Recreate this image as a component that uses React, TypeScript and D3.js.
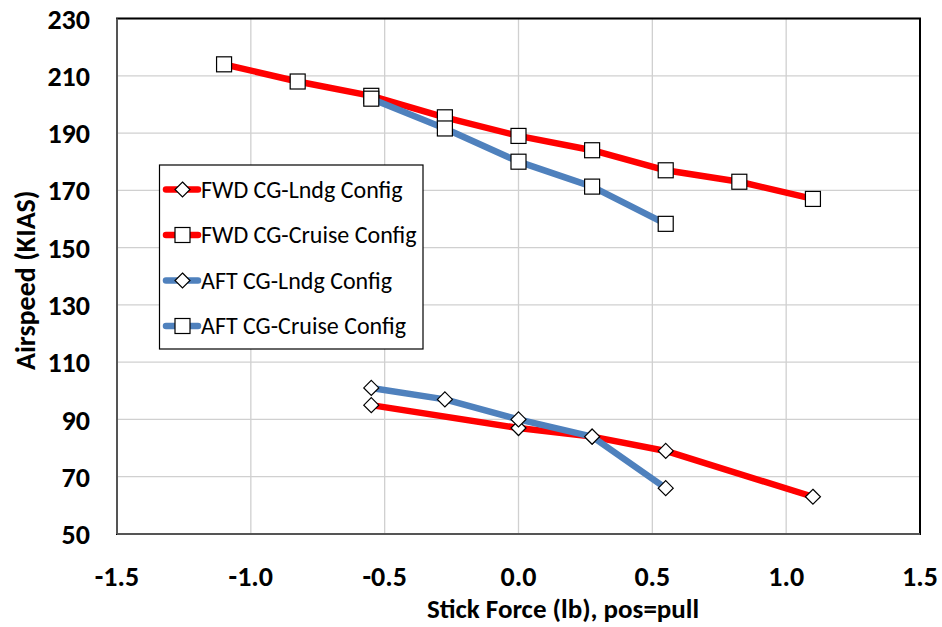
import React from "react";
import * as d3 from "d3";

const fwdLndgX = [-0.55, 0, 0.275, 0.55, 1.1];
const fwdLndgY = [95, 87, 84, 79, 63];
const fwdCruiseX = [-1.1, -0.825, -0.55, -0.275, 0, 0.275, 0.55, 0.825, 1.1];
const fwdCruiseY = [214, 208, 203, 195.5, 189, 184, 177, 173, 167];
const aftLndgX = [-0.55, -0.275, 0, 0.275, 0.55];
const aftLndgY = [101, 97, 90, 84, 66];
const aftCruiseX = [-0.55, -0.275, 0, 0.275, 0.55];
const aftCruiseY = [202, 191.6, 180, 171.3, 158.3];

const xTicks = [-1.5, -1.0, -0.5, 0.0, 0.5, 1.0, 1.5];
const yTicks = [50, 70, 90, 110, 130, 150, 170, 190, 210, 230];

const seriesNames = [
  "FWD CG-Lndg Config",
  "FWD CG-Cruise Config",
  "AFT CG-Lndg Config",
  "AFT CG-Cruise Config",
];

const RED = "#FF0000";
const BLUE = "#4F81BD";
const FONT = "Carlito, 'Liberation Sans Narrow', 'Open Sans', sans-serif";

export default function App() {
  const W = 942, H = 627;
  const L = 117, R = 920, T = 18.5, B = 534;
  const x = d3.scaleLinear().domain([-1.5, 1.5]).range([L, R]);
  const y = d3.scaleLinear().domain([50, 230]).range([B, T]);

  const series = [
    { name: seriesNames[0], xs: fwdLndgX, ys: fwdLndgY, color: RED, marker: "diamond" },
    { name: seriesNames[1], xs: fwdCruiseX, ys: fwdCruiseY, color: RED, marker: "square" },
    { name: seriesNames[2], xs: aftLndgX, ys: aftLndgY, color: BLUE, marker: "diamond" },
    { name: seriesNames[3], xs: aftCruiseX, ys: aftCruiseY, color: BLUE, marker: "square" },
  ];

  const line = d3
    .line<[number, number]>()
    .x((d) => x(d[0]))
    .y((d) => y(d[1]));

  const fmt = (t: number) => d3.format(".1f")(t).replace("\u2212", "-");

  const marker = (kind: string, cx: number, cy: number, key: string) =>
    kind === "square" ? (
      <rect key={key} x={cx - 7.5} y={cy - 7.5} width={15} height={15} fill="#fff" stroke="#000" strokeWidth={1.2} />
    ) : (
      <path
        key={key}
        d={`M${cx},${cy - 7.5}L${cx + 7.5},${cy}L${cx},${cy + 7.5}L${cx - 7.5},${cy}Z`}
        fill="#fff"
        stroke="#000"
        strokeWidth={1.2}
      />
    );

  const legX = 159.5, legY = 165, legW = 263.5, legH = 184;
  const legRows = [189.5, 235, 280.5, 326];

  return (
    <svg width={W} height={H} style={{ position: "absolute", left: 0, top: 0, background: "#fff" }} fontFamily={FONT}>
      <rect x={0} y={0} width={W} height={H} fill="#fff" />
      {/* gridlines */}
      {xTicks.map((t) => (
        <line key={"gx" + t} x1={x(t)} x2={x(t)} y1={T} y2={B} stroke="#D0D0D0" strokeWidth={1.3} />
      ))}
      {yTicks.map((t) => (
        <line key={"gy" + t} x1={L} x2={R} y1={y(t)} y2={y(t)} stroke="#D0D0D0" strokeWidth={1.3} />
      ))}
      {/* plot border */}
      <rect x={L} y={T} width={R - L} height={B - T} fill="none" stroke="#000" strokeWidth={2} />
      <line x1={L} x2={L} y1={T} y2={B} stroke="#555" strokeWidth={2} />
      <line x1={L} x2={R} y1={B} y2={B} stroke="#555" strokeWidth={2} />

      {/* series */}
      {series.map((s, i) => (
        <g key={"s" + i}>
          <path
            d={line(s.xs.map((v, j) => [v, s.ys[j]] as [number, number])) || ""}
            fill="none"
            stroke={s.color}
            strokeWidth={6.5}
            strokeLinejoin="round"
            strokeLinecap="round"
          />
          {s.xs.map((v, j) => marker(s.marker, x(v), y(s.ys[j]), `m${i}-${j}`))}
        </g>
      ))}

      {/* y tick labels */}
      {yTicks.map((t) => (
        <text key={"yl" + t} x={90} y={y(t)} dy="0.36em" textAnchor="end" fontSize={28} fontWeight="bold" fill="#000">
          {t}
        </text>
      ))}
      {/* x tick labels */}
      {xTicks.map((t) => (
        <text key={"xl" + t} x={x(t)} y={576} dy="0.36em" textAnchor="middle" fontSize={28} fontWeight="bold" fill="#000">
          {fmt(t)}
        </text>
      ))}
      {/* axis titles */}
      <text x={563} y={608} dy="0.36em" textAnchor="middle" fontSize={27} fontWeight="bold" fill="#000">
        Stick Force (lb), pos=pull
      </text>
      <text
        transform={`translate(25,${(T + B) / 2 + 4}) rotate(-90)`}
        dy="0.36em"
        textAnchor="middle"
        fontSize={28}
        fontWeight="bold"
        fill="#000"
      >
        Airspeed (KIAS)
      </text>

      {/* legend */}
      <rect x={legX} y={legY} width={legW} height={legH} fill="#fff" stroke="#000" strokeWidth={1.2} />
      {series.map((s, i) => (
        <g key={"lg" + i}>
          <line x1={166} x2={198} y1={legRows[i]} y2={legRows[i]} stroke={s.color} strokeWidth={6.5} strokeLinecap="round" />
          {marker(s.marker, 182.5, legRows[i], "lm" + i)}
          <text x={201} y={legRows[i]} dy="0.35em" fontSize={24} fill="#000">
            {s.name}
          </text>
        </g>
      ))}
    </svg>
  );
}
